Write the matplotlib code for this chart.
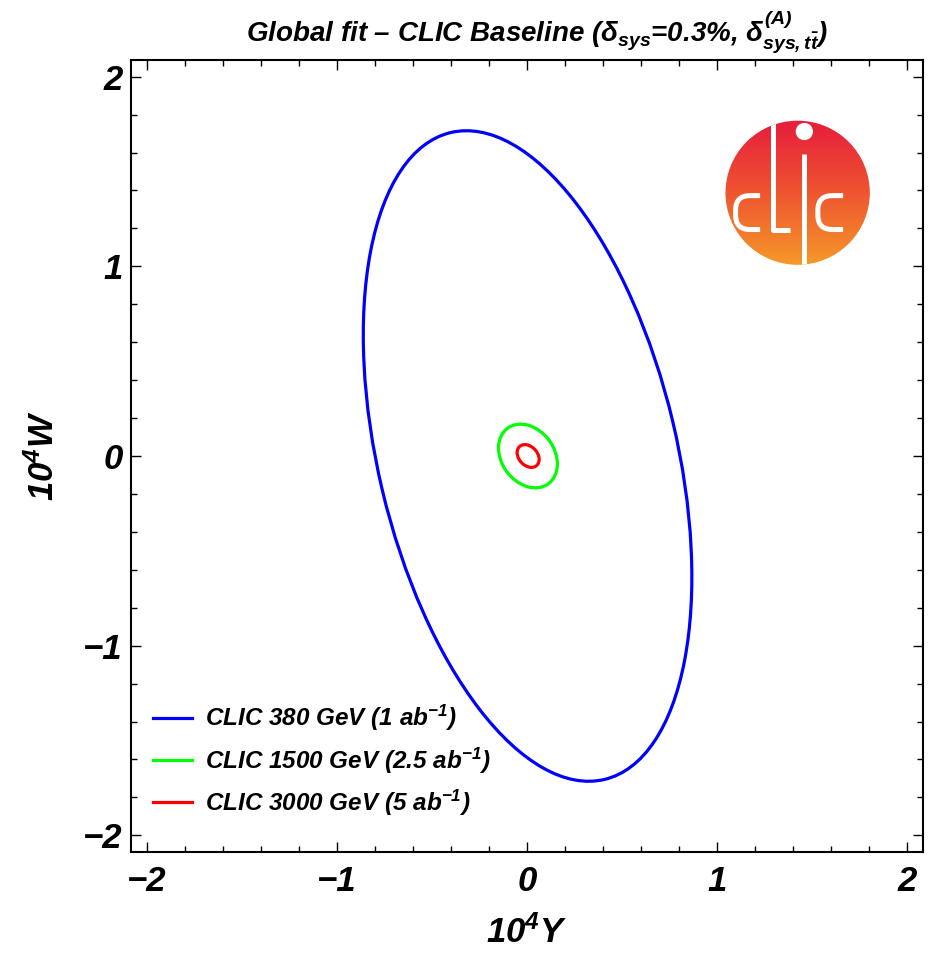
import numpy as np
import matplotlib
matplotlib.use('Agg')
import matplotlib.pyplot as plt
from matplotlib.patches import Ellipse, Circle, PathPatch
from matplotlib.path import Path
from matplotlib.lines import Line2D
from matplotlib.colors import LinearSegmentedColormap
from matplotlib.ticker import MultipleLocator

plt.rcParams['font.family'] = ['Liberation Sans', 'DejaVu Sans']
plt.rcParams['font.weight'] = 'bold'
plt.rcParams['font.style'] = 'italic'
plt.rcParams['axes.labelweight'] = 'bold'
plt.rcParams['mathtext.fontset'] = 'custom'
plt.rcParams['mathtext.rm'] = 'Liberation Sans:bold:italic'
plt.rcParams['mathtext.it'] = 'Liberation Sans:bold:italic'
plt.rcParams['mathtext.bf'] = 'Liberation Sans:bold:italic'
plt.rcParams['mathtext.sf'] = 'Liberation Sans:bold:italic'

# 1-sigma contours in the (10^4 Y, 10^4 W) plane
labels = [r'CLIC 380 GeV (1 ab$^{-1}$)',
          r'CLIC 1500 GeV (2.5 ab$^{-1}$)',
          r'CLIC 3000 GeV (5 ab$^{-1}$)']
colors = ['#0000ff', '#00ff00', '#ff0000']
center_Y = [0.003, 0.005, 0.006]
center_W = [0.0, 0.0, 0.0]
sigma_Y = [0.865, 0.155, 0.058]
sigma_W = [1.715, 0.168, 0.060]
rho = [-0.372, -0.25, -0.30]

fig = plt.figure(figsize=(9.35, 9.55), dpi=100)
ax = fig.add_axes([131/935., 103/955., 792/935., 792/955.])

handles = []
for i in range(len(labels)):
    cov = np.array([[sigma_Y[i]**2, rho[i]*sigma_Y[i]*sigma_W[i]],
                    [rho[i]*sigma_Y[i]*sigma_W[i], sigma_W[i]**2]])
    vals, vecs = np.linalg.eigh(cov)
    angle = np.degrees(np.arctan2(vecs[1, 1], vecs[0, 1]))
    ell = Ellipse((center_Y[i], center_W[i]), 2*np.sqrt(vals[1]), 2*np.sqrt(vals[0]),
                  angle=angle, fill=False, edgecolor=colors[i], lw=2.3, zorder=3)
    ax.add_patch(ell)
    handles.append(Line2D([], [], color=colors[i], lw=2.3))

# CLIC logo
cx, cy, r = 1.425, 1.388, 0.38
logo_cmap = LinearSegmentedColormap.from_list('clic', ['#e61c3c', '#ee5530', '#f6982a'])
grad = np.linspace(0, 1, 256).reshape(-1, 1)
im = ax.imshow(grad, cmap=logo_cmap, extent=[cx-r, cx+r, cy-r, cy+r],
               origin='upper', aspect='auto', zorder=4)
im.set_clip_path(Circle((cx, cy), r, transform=ax.transData))

def lp(u, v):
    return (cx + u*r, cy + v*r)

def c_letter(u0, u1, v0, v1, rad):
    verts = [lp(u1, v1), lp(u0+rad, v1), lp(u0, v1), lp(u0, v1-rad),
             lp(u0, v0+rad), lp(u0, v0), lp(u0+rad, v0), lp(u1, v0)]
    codes = [Path.MOVETO, Path.LINETO, Path.CURVE3, Path.CURVE3,
             Path.LINETO, Path.CURVE3, Path.CURVE3, Path.LINETO]
    return Path(verts, codes)

logo_lw = 3.6
for path in [c_letter(-0.86, -0.52, -0.51, -0.04, 0.2),
             c_letter(0.28, 0.63, -0.51, -0.04, 0.2),
             Path([lp(-0.346, 1.1), lp(-0.346, -0.51), lp(-0.10, -0.51)]),
             Path([lp(0.093, 0.54), lp(0.093, -1.1)])]:
    pp = PathPatch(path, fill=False, edgecolor='white', lw=logo_lw, zorder=5,
                   capstyle='butt', joinstyle='round')
    ax.add_patch(pp)
    pp.set_clip_path(Circle((cx, cy), r, transform=ax.transData))
ax.add_patch(Circle(lp(0.093, 0.85), 0.11*r, color='white', zorder=5))

ax.set_xlim(-2.085, 2.085)
ax.set_ylim(-2.088, 2.088)
ax.xaxis.set_major_locator(MultipleLocator(1))
ax.xaxis.set_minor_locator(MultipleLocator(0.2))
ax.yaxis.set_major_locator(MultipleLocator(1))
ax.yaxis.set_minor_locator(MultipleLocator(0.2))
ax.tick_params(which='both', direction='in', top=True, right=True, width=1.0)
ax.tick_params(which='major', length=7.2, labelsize=25)
ax.tick_params(which='minor', length=4.6)
ax.tick_params(axis='x', pad=9)
ax.tick_params(axis='y', pad=6)
for s in ax.spines.values():
    s.set_linewidth(1.5)

ax.set_xlabel(r'10$^4$Y', fontsize=25)
ax.set_ylabel(r'10$^4$W', fontsize=25)
ax.xaxis.set_label_coords(0.5, -0.08)
ax.yaxis.set_label_coords(-0.089, 0.5)

fig.text(537/935., 1 - 32/955., r'Global fit – CLIC Baseline ($\delta_{sys}$=0.3%, $\delta^{(A)}_{sys,t\bar{t}}$)',
         ha='center', va='center', fontsize=20)

ax.legend(handles, labels, loc='lower left', bbox_to_anchor=(0.028, 0.043),
          frameon=False, fontsize=17.5, handlelength=1.6, handletextpad=0.55,
          labelspacing=0.5, borderpad=0, borderaxespad=0)

fig.savefig('out.png', dpi=100)
